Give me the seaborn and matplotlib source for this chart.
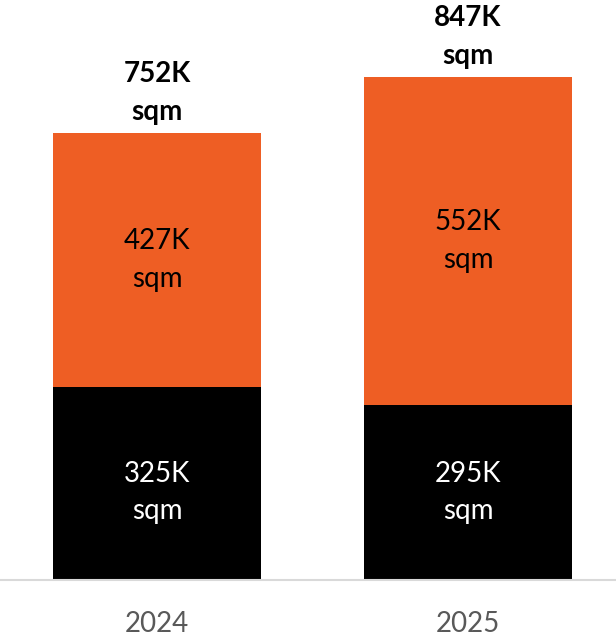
import matplotlib
matplotlib.use("Agg")
import matplotlib.pyplot as plt
import seaborn as sns
import pandas as pd

years = ["2024", "2025"]
base_k = [325, 295]
upper_k = [427, 552]
totals_k = [752, 847]

BLACK = "#000000"
ORANGE = "#EE5E24"

sns.set_theme(style="white")
plt.rcParams["font.family"] = ["Lato", "DejaVu Sans"]

fig = plt.figure(figsize=(6.16, 6.39), dpi=100)
ax = fig.add_axes([0, 59 / 639, 1, 580 / 639])

df = pd.DataFrame({"year": years, "base": base_k, "upper": upper_k, "total": totals_k})

# Stacked bars: full total in orange, base segment in black on top of it
sns.barplot(data=df, x="year", y="total", color=ORANGE, width=0.67,
            saturation=1, ax=ax, edgecolor="none")
sns.barplot(data=df, x="year", y="base", color=BLACK, width=0.67,
            saturation=1, ax=ax, edgecolor="none")

FS = 20
LS = 1.55
# base labels share one baseline, centred in the shorter base segment
base_label_y = min(base_k) / 2
for i in range(len(years)):
    ax.text(i, base_label_y, f"{base_k[i]}K\nsqm", ha="center", va="center",
            color="white", fontsize=FS, linespacing=LS)
    ax.text(i, base_k[i] + upper_k[i] / 2, f"{upper_k[i]}K\nsqm", ha="center",
            va="center", color="black", fontsize=FS, linespacing=LS)
    ax.annotate(f"{totals_k[i]}K\nsqm", xy=(i, totals_k[i]), xytext=(0, 6),
                textcoords="offset points", ha="center", va="bottom",
                fontsize=FS, fontweight="bold", color="black", linespacing=LS)

ax.set_xlim(-0.505, 1.476)
ax.set_ylim(0, 580 / 0.594)
ax.set_xlabel("")
ax.set_ylabel("")
ax.set_yticks([])
ax.tick_params(axis="x", length=0, pad=22, labelsize=20, labelcolor="#595959")
for side in ["top", "left", "right"]:
    ax.spines[side].set_visible(False)
ax.spines["bottom"].set_color("#D9D9D9")
ax.spines["bottom"].set_linewidth(1.5)

fig.savefig("out.png", dpi=100)
